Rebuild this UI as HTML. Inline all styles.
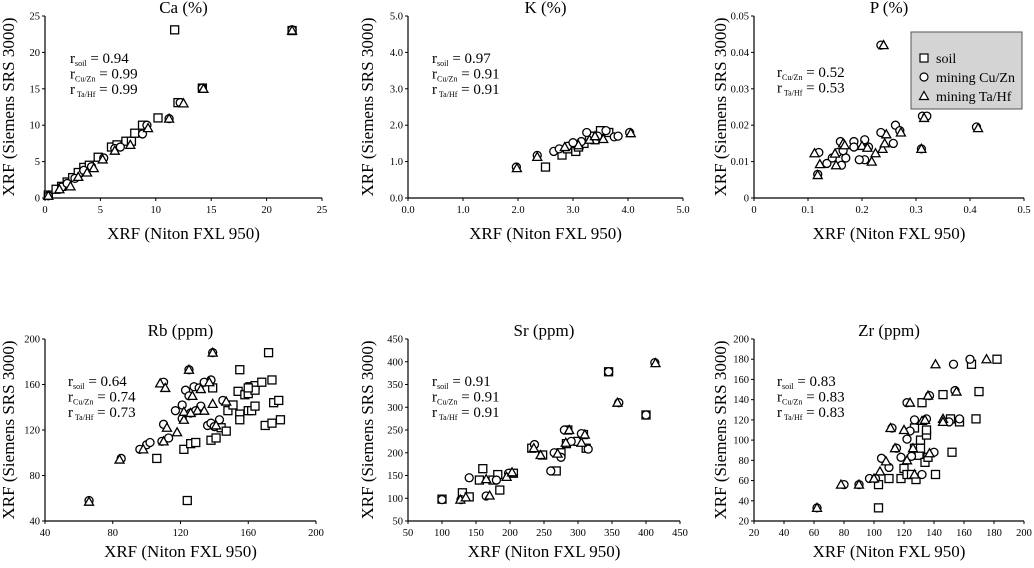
<!DOCTYPE html>
<html><head><meta charset="utf-8">
<style>
body{margin:0;background:#fff;width:1034px;height:563px;overflow:hidden}
svg{font-family:"Liberation Serif",serif}
</style></head>
<body>
<svg id="chart" width="1034" height="563" viewBox="0 0 1034 563" xmlns="http://www.w3.org/2000/svg"></svg>
<script>
// ---- data ----
const caSoil=[[0.3,0.4],[1,1.2],[1.5,1.6],[2,2.2],[2.5,2.8],[3,3.5],[3.5,4.2],[4,4.5],[4.8,5.6],[6,7],[6.5,7.3],[7.3,7.8],[7.8,7.8],[8.1,8.9],[8.8,10],[10.2,11],[11.7,23.1],[12,13.1],[14.2,15.1],[22.3,23]];
const caCu=[[0.3,0.3],[1.5,1.5],[2,2],[2.7,2.7],[3.5,3.8],[4.2,4.3],[5.3,5.5],[6.3,6.8],[6.8,7],[8.8,8.8],[9.2,10],[11.2,10.9],[12.2,13.1],[14.2,15.1],[22.3,23.1]];
const caTa=[[0.3,0.3],[1.3,1.2],[2.3,1.6],[3,2.9],[3.8,3.5],[4.4,4.1],[5.2,5.3],[6.3,6.5],[7.7,7.3],[9.3,9.6],[11.2,10.9],[12.5,13],[14.3,15],[22.3,23]];
const kSoil=[[2.5,0.85],[2.8,1.18],[3.05,1.28],[3.2,1.5],[3.4,1.6],[3.5,1.85],[3.65,1.8],[3.1,1.4],[2.9,1.35],[3.3,1.7]];
const kCu=[[1.97,0.85],[2.35,1.17],[2.65,1.28],[2.75,1.35],[2.9,1.42],[3.0,1.52],[3.25,1.8],[3.45,1.7],[3.6,1.85],[3.75,1.68],[3.82,1.7],[4.03,1.8],[3.15,1.55]];
const kTa=[[1.98,0.82],[2.35,1.13],[2.85,1.4],[3.1,1.45],[3.3,1.6],[3.55,1.62],[4.05,1.78],[3.4,1.7]];
const pSoil=[];
const pCu=[[0.118,0.0065],[0.12,0.0125],[0.135,0.0095],[0.145,0.011],[0.155,0.0125],[0.16,0.0155],[0.162,0.009],[0.17,0.011],[0.185,0.0155],[0.185,0.014],[0.205,0.016],[0.205,0.0105],[0.195,0.0105],[0.212,0.014],[0.235,0.042],[0.235,0.018],[0.258,0.015],[0.262,0.02],[0.27,0.0185],[0.31,0.0135],[0.312,0.0225],[0.32,0.0225],[0.412,0.0195],[0.165,0.013]];
const pTa=[[0.112,0.0123],[0.122,0.0093],[0.15,0.0122],[0.152,0.009],[0.165,0.015],[0.168,0.0145],[0.2,0.0143],[0.21,0.0138],[0.218,0.01],[0.225,0.0123],[0.238,0.0135],[0.24,0.042],[0.242,0.015],[0.245,0.0175],[0.272,0.018],[0.31,0.0135],[0.315,0.022],[0.415,0.0192],[0.118,0.0063]];
const rbSoil=[[106,95],[122,103],[124,58],[126,108],[129,109],[138,111],[141,113],[144,122],[147,119],[148,137],[151,142],[154,154],[155,173],[155,134],[155,129],[158,151],[160,152],[160,137],[161,158],[162,137],[164,159],[164,155],[164,141],[168,162],[170,124],[172,188],[174,164],[174,126],[175,144],[178,146],[179,129],[139,157],[160,157]];
const rbCu=[[66,58],[85,95],[96,103],[100,107],[102,109],[109,110],[110,125],[110,162],[113,113],[117,137],[121,142],[121,130],[123,155],[125,150],[125,173],[126,135],[128,158],[129,137],[131,157],[132,141],[134,162],[136,124],[138,126],[138,164],[139,188],[140,123],[143,129],[145,146]];
const rbTa=[[66,57],[84,94],[98,103],[108,161],[110,110],[111,157],[112,122],[118,118],[122,129],[122,136],[125,173],[127,150],[130,137],[132,156],[134,137],[137,162],[139,143],[139,188],[141,124],[147,145],[126,135]];
const srSoil=[[100,98],[130,112],[140,103],[155,140],[160,165],[175,140],[182,152],[185,118],[205,155],[232,210],[248,195],[268,160],[275,200],[283,220],[300,225],[308,240],[312,210],[345,378],[400,283],[285,250]];
const srCu=[[100,97],[128,97],[140,145],[165,105],[180,140],[198,155],[236,218],[260,160],[265,200],[275,190],[280,250],[290,225],[305,242],[315,208],[345,378],[413,398],[400,283],[360,310]];
const srTa=[[127,97],[135,102],[165,142],[170,106],[195,147],[203,157],[235,210],[245,195],[270,198],[282,222],[287,250],[305,222],[310,240],[358,310],[414,397]];
const zrSoil=[[103,33],[103,56],[110,62],[118,62],[120,72],[122,66],[125,66],[127,92],[127,112],[128,61],[130,85],[131,92],[131,100],[132,137],[134,78],[135,105],[135,110],[136,83],[146,145],[151,121],[152,88],[141,66],[157,118],[165,175],[168,121],[170,148],[182,180]];
const zrCu=[[62,33],[80,56],[90,56],[97,62],[101,62],[105,82],[110,73],[112,112],[115,92],[118,83],[122,101],[122,137],[124,109],[127,120],[132,66],[135,121],[137,144],[140,88],[150,118],[153,175],[154,149],[157,121],[164,180],[125,84]];
const zrTa=[[62,33],[78,56],[90,56],[100,62],[104,69],[108,79],[111,112],[114,92],[120,110],[122,80],[124,137],[127,66],[132,119],[134,120],[136,144],[137,87],[141,175],[146,121],[146,118],[155,148],[175,180],[126,92]];
const caTicks=["0","5","10","15","20","25"];
const kTicks=["0.0","1.0","2.0","3.0","4.0","5.0"];
const pYTicks=["0","0.01","0.02","0.03","0.04","0.05"];
const pXTicks=["0","0.1","0.2","0.3","0.4","0.5"];
const rbTicks=["40","80","120","160","200"];
const srTicks=["50","100","150","200","250","300","350","400","450"];
const zrTicks=["20","40","60","80","100","120","140","160","180","200"];
const caR=[["soil","0.94"],["Cu/Zn","0.99"],[" Ta/Hf","0.99"]];
const kR=[["soil","0.97"],["Cu/Zn","0.91"],[" Ta/Hf","0.91"]];
const pR=[["Cu/Zn","0.52"],[" Ta/Hf","0.53"]];
const rbR=[["soil","0.64"],["Cu/Zn","0.74"],[" Ta/Hf","0.73"]];
const srR=[["soil","0.91"],["Cu/Zn","0.91"],[" Ta/Hf","0.91"]];
const zrR=[["soil","0.83"],["Cu/Zn","0.83"],[" Ta/Hf","0.83"]];

const NS="http://www.w3.org/2000/svg";
const svg=document.getElementById('chart');
function mk(tag,attrs,parent,text){const e=document.createElementNS(NS,tag);for(const k in attrs)e.setAttribute(k,attrs[k]);if(text!==undefined)e.textContent=text;(parent||svg).appendChild(e);return e;}

const panels=[
 {id:'ca',title:'Ca (%)',x0:45,x1:322,y0:198,y1:16,xt:caTicks,yt:caTicks,soil:caSoil,cu:caCu,ta:caTa,r:caR,rx:70,ry:63,yt_x:8,xto:41},
 {id:'k',title:'K (%)',x0:408,x1:683,y0:198,y1:16,xt:kTicks,yt:kTicks,soil:kSoil,cu:kCu,ta:kTa,r:kR,rx:432,ry:63,yt_x:367,xto:41},
 {id:'p',title:'P (%)',x0:754,x1:1024,y0:198,y1:16,xt:pXTicks,yt:pYTicks,soil:pSoil,cu:pCu,ta:pTa,r:pR,rx:777,ry:77,yt_x:720,xto:41},
 {id:'rb',title:'Rb (ppm)',x0:45,x1:316,y0:521,y1:339,xt:rbTicks,yt:rbTicks,soil:rbSoil,cu:rbCu,ta:rbTa,r:rbR,rx:68,ry:386,yt_x:8,xto:36},
 {id:'sr',title:'Sr (ppm)',x0:408,x1:680,y0:521,y1:339,xt:srTicks,yt:srTicks,soil:srSoil,cu:srCu,ta:srTa,r:srR,rx:432,ry:386,yt_x:367,xto:36},
 {id:'zr',title:'Zr (ppm)',x0:754,x1:1024,y0:521,y1:339,xt:zrTicks,yt:zrTicks,soil:zrSoil,cu:zrCu,ta:zrTa,r:zrR,rx:777,ry:386,yt_x:720,xto:36}
];

panels.forEach(p=>{
 const g=mk('g',{});
 
 
 const xmin=+p.xt[0],xmax=+p.xt[p.xt.length-1],ymin=+p.yt[0],ymax=+p.yt[p.yt.length-1];
 const sx=v=>p.x0+(v-xmin)/(xmax-xmin)*(p.x1-p.x0);
 const sy=v=>p.y0-(v-ymin)/(ymax-ymin)*(p.y0-p.y1);
 const t=mk('text',{x:(p.x0+p.x1)/2,y:p.y1-3,'font-size':17,'text-anchor':'middle'},g,p.title);
 
 
 const ax=mk('path',{d:`M${p.x0},${p.y1}V${p.y0}H${p.x1}`,stroke:'#000','stroke-width':1.2,fill:'none'},g);
 
 
 p.yt.forEach(l=>{const y=sy(+l);mk('line',{x1:p.x0-3,x2:p.x0,y1:y,y2:y,stroke:'#000'},g);
  const e=mk('text',{x:p.x0-5,y:y+3.5,'font-size':10.5,'text-anchor':'end'},g,l);
  
  });
 p.xt.forEach(l=>{const x=sx(+l);mk('line',{x1:x,x2:x,y1:p.y0,y2:p.y0+3,stroke:'#000'},g);
  const e=mk('text',{x:x,y:p.y0+15,'font-size':10.5,'text-anchor':'middle'},g,l);
  
  });
 const xtl=mk('text',{x:(p.x0+p.x1)/2,y:p.y0+p.xto,'font-size':17,'text-anchor':'middle'},g,'XRF (Niton FXL 950)');
 
 
 const yc=(p.y0+p.y1)/2;
 const ytl=mk('text',{x:p.yt_x,y:yc,'font-size':17,'text-anchor':'middle',transform:`rotate(-90 ${p.yt_x} ${yc}) translate(0 6)`},g,'XRF (Siemens SRS 3000)');
 
 
 p.r.forEach((r,i)=>{const e=mk('text',{x:p.rx,y:p.ry+i*15.5,'font-size':15},g);
  mk('tspan',{},e,'r');mk('tspan',{'font-size':8,dy:3},e,r[0]);mk('tspan',{dy:-3},e,' = '+r[1]);
  
  });
 p.soil.forEach(d=>{const e=mk('rect',{x:sx(d[0])-4,y:sy(d[1])-4,width:8,height:8,fill:'#fff',stroke:'#000','stroke-width':1.3},g);
  
  });
 p.cu.forEach(d=>{const e=mk('circle',{cx:sx(d[0]),cy:sy(d[1]),r:4,fill:'#fff',stroke:'#000','stroke-width':1.3},g);
  
  });
 p.ta.forEach(d=>{const x=sx(d[0]),y=sy(d[1]);const e=mk('path',{d:`M${x},${y-4.5}L${x+4.5},${y+3.5}L${x-4.5},${y+3.5}Z`,fill:'#fff',stroke:'#000','stroke-width':1.3},g);
  
  });
});

// legend
const lg=mk('g',{});


mk('rect',{x:911,y:32,width:111,height:77,fill:'#d4d4d4',stroke:'#555','stroke-width':1},lg);
const items=[['soil','sq'],['mining Cu/Zn','ci'],['mining Ta/Hf','tr']];
items.forEach((it,i)=>{const y=58+i*19;const x=924;
 if(it[1]=='sq')mk('rect',{x:x-4,y:y-4,width:8,height:8,fill:'#fff',stroke:'#000','stroke-width':1.2},lg);
 if(it[1]=='ci')mk('circle',{cx:x,cy:y,r:4,fill:'#fff',stroke:'#000','stroke-width':1.2},lg);
 if(it[1]=='tr')mk('path',{d:`M${x},${y-4.5}L${x+4.5},${y+3.5}L${x-4.5},${y+3.5}Z`,fill:'#fff',stroke:'#000','stroke-width':1.2},lg);
 const e=mk('text',{x:936,y:y+5,'font-size':14},lg,it[0]);
 
 
});
</script>
</body></html>
